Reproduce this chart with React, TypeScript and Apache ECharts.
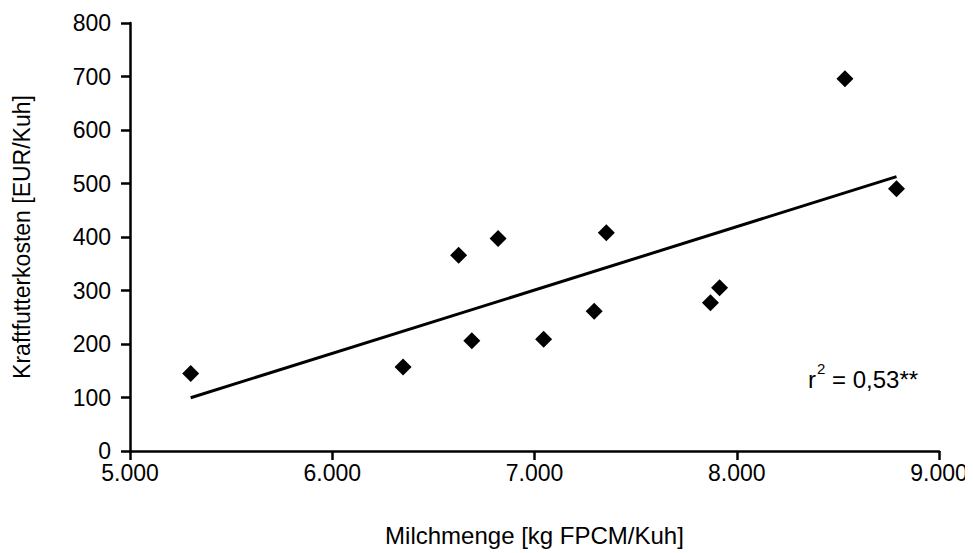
import React, { useEffect, useRef } from "react";
import * as echarts from "echarts";

const milk = [5300, 6350, 6625, 6690, 6820, 7045, 7295, 7355, 7870, 7915, 8535, 8790];
const cost = [145, 157, 366, 206, 397, 209, 261, 408, 277, 305, 696, 490];
const xTicks = [5000, 6000, 7000, 8000, 9000];
const yTicks = [0, 100, 200, 300, 400, 500, 600, 700, 800];
const r2Label = "0,53**";

const FONT = "'Liberation Sans', Arial, sans-serif";

function regression(xs: number[], ys: number[]) {
  const n = xs.length;
  const mx = xs.reduce((a, b) => a + b, 0) / n;
  const my = ys.reduce((a, b) => a + b, 0) / n;
  let sxy = 0, sxx = 0;
  for (let i = 0; i < n; i++) {
    sxy += (xs[i] - mx) * (ys[i] - my);
    sxx += (xs[i] - mx) * (xs[i] - mx);
  }
  const b = sxy / sxx;
  const a = my - b * mx;
  return { a, b };
}

function fmtThousands(v: number) {
  const s = Math.round(v).toString();
  return s.replace(/\B(?=(\d{3})+(?!\d))/g, ".");
}

export default function App() {
  const ref = useRef<HTMLDivElement>(null);
  useEffect(() => {
    if (!ref.current) return;
    const chart = echarts.init(ref.current, undefined, { renderer: "svg" });
    const { a, b } = regression(milk, cost);
    const xmin = Math.min(...milk);
    const xmax = Math.max(...milk);
    const trend = [
      [xmin, a + b * xmin],
      [xmax, a + b * xmax],
    ];
    chart.setOption({
      animation: false,
      backgroundColor: "#ffffff",
      grid: { left: 122, right: 34, top: 15, bottom: 102, containLabel: false, outerBoundsMode: "none" },
      xAxis: {
        type: "value",
        min: xTicks[0],
        max: xTicks[xTicks.length - 1],
        interval: 1000,
        name: "Milchmenge [kg FPCM/Kuh]",
        nameLocation: "middle",
        nameGap: 72,
        nameTextStyle: { fontFamily: FONT, fontSize: 24, color: "#000" },
        axisLine: { show: true, lineStyle: { color: "#000", width: 2.5 } },
        axisTick: { show: true, length: 9, lineStyle: { color: "#000", width: 2.5 } },
        axisLabel: {
          fontFamily: FONT,
          fontSize: 23,
          color: "#000",
          margin: 14,
          lineHeight: 16,
          formatter: (v: number) => fmtThousands(v),
        },
        splitLine: { show: false },
      },
      yAxis: {
        type: "value",
        min: yTicks[0],
        max: yTicks[yTicks.length - 1],
        interval: 100,
        name: "Kraftfutterkosten [EUR/Kuh]",
        nameLocation: "middle",
        nameGap: 97,
        nameRotate: 90,
        nameTextStyle: { fontFamily: FONT, fontSize: 23, color: "#000" },
        axisLine: { show: true, lineStyle: { color: "#000", width: 2.5 } },
        axisTick: { show: true, length: 9, lineStyle: { color: "#000", width: 2.5 } },
        axisLabel: { fontFamily: FONT, fontSize: 23, color: "#000", margin: 19, lineHeight: 16 },
        splitLine: { show: false },
      },
      series: [
        {
          type: "line",
          data: trend,
          showSymbol: false,
          symbol: "none",
          lineStyle: { color: "#000", width: 3 },
          z: 2,
        },
        {
          type: "scatter",
          data: milk.map((x, i) => [x, cost[i]]),
          symbol: "diamond",
          symbolSize: 17,
          itemStyle: { color: "#000", opacity: 1 },
          z: 3,
        },
      ],
      graphic: [
        {
          type: "text",
          left: 800,
          top: 353,
          style: {
            text: "{r|r}{s|2}{t| = " + r2Label + "}",
            rich: {
              r: { fontFamily: FONT, fontSize: 24, fill: "#000", verticalAlign: "bottom", lineHeight: 30 },
              s: { fontFamily: FONT, fontSize: 15, fill: "#000", verticalAlign: "top", lineHeight: 30, padding: [0, 0, 7, 1] },
              t: { fontFamily: FONT, fontSize: 24, fill: "#000", verticalAlign: "bottom", lineHeight: 30 },
            },
          },
        },
      ],
    });
    return () => chart.dispose();
  }, []);
  return <div ref={ref} style={{ width: 965, height: 545 }} />;
}
